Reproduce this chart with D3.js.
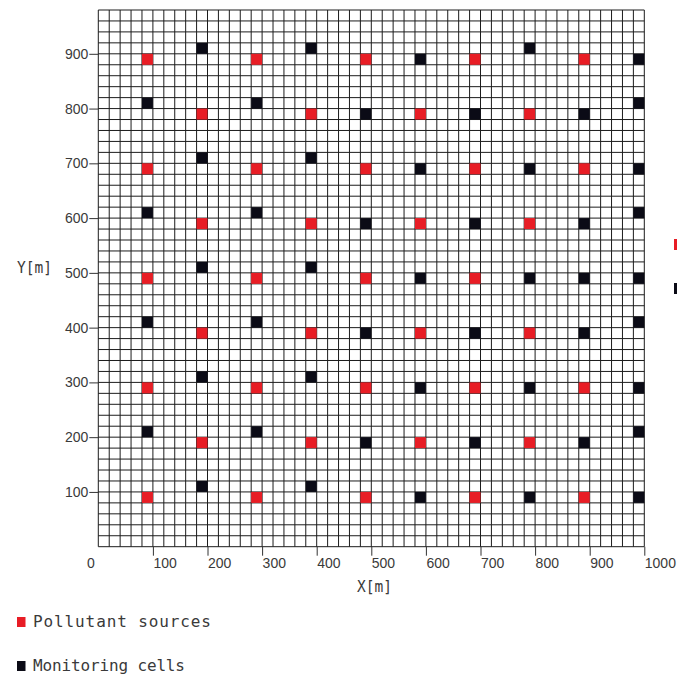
<!DOCTYPE html>
<html>
<head>
<meta charset="utf-8">
<script src="https://cdn.jsdelivr.net/npm/d3@7"></script>
<style>
  html, body { margin: 0; padding: 0; background: #fff; }
  svg { display: block; }
  text { font-family: "Liberation Sans", "DejaVu Sans", sans-serif; fill: #3a3a3a; }
  .title, .legend text { font-family: "DejaVu Sans Mono", "Liberation Mono", monospace; }
</style>
</head>
<body>
<svg id="chart" width="684" height="676"></svg>
<script>
// Domain of the study area (metres)
const xDomain = [0, 1000];
const yDomain = [0, 980];
const cellSize = 20;

// Axis tick values
const xTicks = [0, 100, 200, 300, 400, 500, 600, 700, 800, 900, 1000];
const yTicks = [100, 200, 300, 400, 500, 600, 700, 800, 900];

// Cell centres of pollutant sources [x, y]
const sources = [
  [90, 890], [90, 690], [90, 490], [90, 290], [90, 90],
  [190, 790], [190, 590], [190, 390], [190, 190],
  [290, 890], [290, 690], [290, 490], [290, 290], [290, 90],
  [390, 790], [390, 590], [390, 390], [390, 190],
  [490, 890], [490, 690], [490, 490], [490, 290], [490, 90],
  [590, 790], [590, 590], [590, 390], [590, 190],
  [690, 890], [690, 690], [690, 490], [690, 290], [690, 90],
  [790, 790], [790, 590], [790, 390], [790, 190],
  [890, 890], [890, 690], [890, 290], [890, 90]
];

// Cell centres of monitoring cells [x, y]
const monitors = [
  [90, 810], [90, 610], [90, 410], [90, 210],
  [190, 910], [190, 710], [190, 510], [190, 310], [190, 110],
  [290, 810], [290, 610], [290, 410], [290, 210],
  [390, 910], [390, 710], [390, 510], [390, 310], [390, 110],
  [490, 790], [490, 590], [490, 390], [490, 190],
  [590, 890], [590, 690], [590, 490], [590, 290], [590, 90],
  [690, 790], [690, 590], [690, 390], [690, 190],
  [790, 910], [790, 690], [790, 490], [790, 290], [790, 90],
  [890, 790], [890, 590], [890, 490], [890, 390], [890, 190],
  [990, 890], [990, 810], [990, 690], [990, 610], [990, 490],
  [990, 410], [990, 290], [990, 210], [990, 90]
];

const seriesNames = ["Pollutant sources", "Monitoring cells"];
const seriesColors = ["#e81d25", "#0b0b16"];

const svg = d3.select("#chart");

const x = d3.scaleLinear().domain(xDomain).range([98.3, 644.3]);
const y = d3.scaleLinear().domain(yDomain).range([546.7, 10]);

// Grid of 20 m cells
const grid = svg.append("g").attr("class", "grid")
  .attr("stroke", "#1c1c1c").attr("stroke-width", 1);
grid.selectAll("line.v")
  .data(d3.range(xDomain[0], xDomain[1] + 1, cellSize))
  .join("line").attr("class", "v")
  .attr("x1", d => x(d)).attr("x2", d => x(d))
  .attr("y1", y(yDomain[0])).attr("y2", y(yDomain[1]));
grid.selectAll("line.h")
  .data(d3.range(yDomain[0], yDomain[1] + 1, cellSize))
  .join("line").attr("class", "h")
  .attr("y1", d => y(d)).attr("y2", d => y(d))
  .attr("x1", x(xDomain[0])).attr("x2", x(xDomain[1]));

// Cells: each marker fills one grid cell
function drawCells(data, color, cls) {
  svg.append("g").attr("class", cls)
    .selectAll("rect").data(data).join("rect")
    .attr("x", d => x(d[0] - cellSize / 2))
    .attr("y", d => y(d[1] + cellSize / 2))
    .attr("width", d => x(d[0] + cellSize / 2) - x(d[0] - cellSize / 2))
    .attr("height", d => y(d[1] - cellSize / 2) - y(d[1] + cellSize / 2))
    .attr("fill", color);
}
drawCells(sources, seriesColors[0], "sources");
drawCells(monitors, seriesColors[1], "monitors");

// Y axis
const yAxis = svg.append("g")
  .attr("transform", `translate(${x(0)},0)`)
  .call(d3.axisLeft(y).tickValues(yTicks).tickSize(9).tickPadding(1).tickFormat(d3.format("d")));
yAxis.select(".domain").remove();
yAxis.selectAll(".tick line").attr("stroke", "#333");
yAxis.selectAll(".tick text")
  .attr("font-size", 14).attr("fill", "#3a3a3a")
  .attr("font-family", "Liberation Sans, DejaVu Sans, sans-serif");

// X axis: labels start at their tick
const xAxis = svg.append("g")
  .attr("transform", `translate(0,${y(0)})`)
  .call(d3.axisBottom(x).tickValues(xTicks).tickSize(9).tickFormat(d3.format("d")));
xAxis.select(".domain").remove();
xAxis.selectAll(".tick line").attr("stroke", "#333")
  .attr("display", d => d === 0 ? "none" : null);
xAxis.selectAll(".tick text")
  .attr("font-size", 14).attr("fill", "#3a3a3a")
  .attr("font-family", "Liberation Sans, DejaVu Sans, sans-serif")
  .attr("y", 21).attr("dy", 0)
  .attr("x", d => d === 0 ? -4 : 0)
  .attr("text-anchor", d => d === 0 ? "end" : "start");

// Axis titles
svg.append("text").attr("class", "title").attr("x", 17).attr("y", 273)
  .attr("font-size", 15).attr("textLength", 35).attr("lengthAdjust", "spacingAndGlyphs")
  .text("Y[m]");
svg.append("text").attr("class", "title").attr("x", 357).attr("y", 592)
  .attr("font-size", 15).attr("textLength", 35).attr("lengthAdjust", "spacingAndGlyphs")
  .text("X[m]");

// Legend below the plot
const legendRows = [627, 671];
const legend = svg.append("g").attr("class", "legend");
seriesNames.forEach((name, i) => {
  const row = legend.append("g");
  row.append("rect")
    .attr("x", 17).attr("y", legendRows[i] - 10)
    .attr("width", 8.5).attr("height", 10)
    .attr("fill", seriesColors[i]);
  row.append("text")
    .attr("x", 33).attr("y", legendRows[i])
    .attr("font-size", 16)
    .attr("textLength", i === 0 ? 178 : 152).attr("lengthAdjust", "spacing")
    .text(name);
});

// Side legend, running off the right edge of the page
svg.append("clipPath").attr("id", "edgeClip")
  .append("rect").attr("x", 0).attr("y", 0).attr("width", 677).attr("height", 676);
const sideRows = [250, 294];
const side = svg.append("g").attr("clip-path", "url(#edgeClip)");
seriesNames.forEach((name, i) => {
  side.append("rect")
    .attr("x", 674).attr("y", sideRows[i] - 11)
    .attr("width", 9).attr("height", 11)
    .attr("fill", seriesColors[i]);
});
</script>
</body>
</html>
